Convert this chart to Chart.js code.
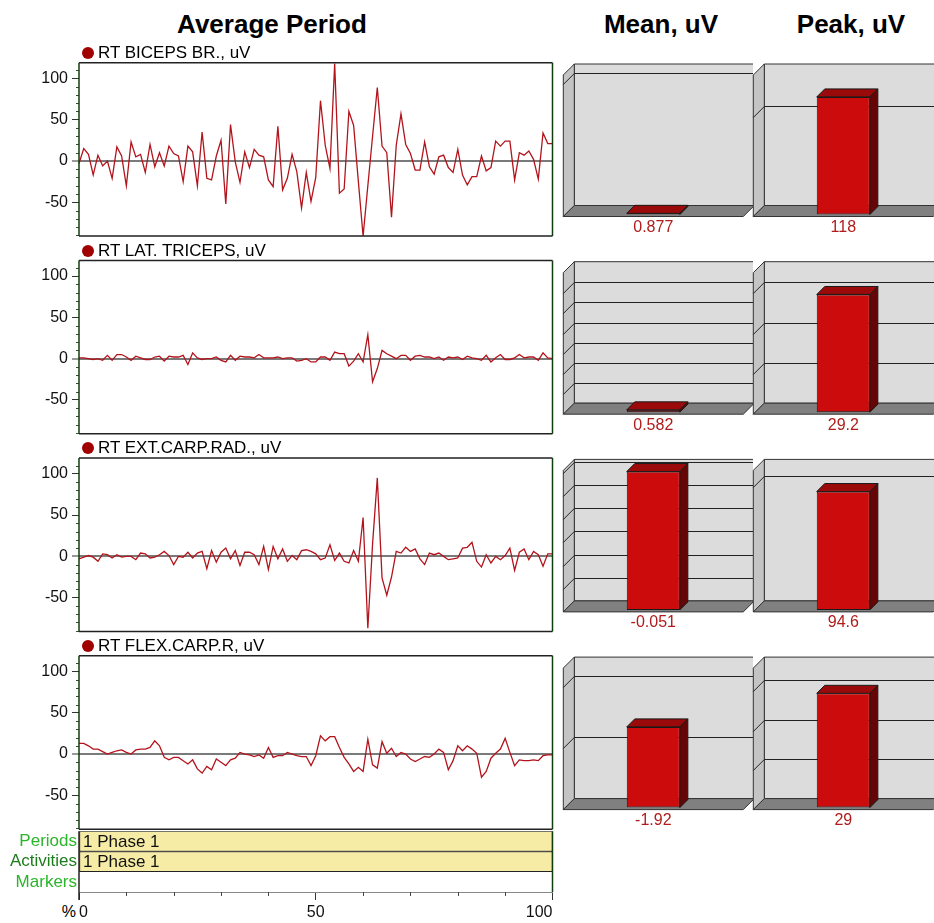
<!DOCTYPE html>
<html>
<head>
<meta charset="utf-8">
<script src="https://cdn.jsdelivr.net/npm/chart.js@4.4.0/dist/chart.umd.min.js"></script>
<style>
  body { margin: 0; width: 934px; height: 923px; overflow: hidden; background: #fff; position: relative;
         font-family: "Liberation Sans", Arial, sans-serif; }
  canvas { position: absolute; }
  .head { position: absolute; top: 10px; font-weight: bold; font-size: 26px; line-height: 28px;
          transform: translateX(-50%); white-space: nowrap; color: #000; }
  .series { position: absolute; left: 82px; height: 18px; display: flex; align-items: center;
            font-size: 17px; white-space: nowrap; color: #000; }
  .series .dot { width: 12px; height: 12px; border-radius: 50%; background: #a00000; margin-right: 4px; }
  .pct { position: absolute; left: 58px; top: 902px; width: 18px; text-align: right; font-size: 16px; line-height: 20px; }
</style>
</head>
<body>
<div class="head" style="left:272px">Average Period</div>
<div class="head" style="left:661px">Mean, uV</div>
<div class="head" style="left:851px">Peak, uV</div>
<div class="pct">%</div>
<script>
// ---- data ----
const channels = ['RT BICEPS BR., uV', 'RT LAT. TRICEPS, uV', 'RT EXT.CARP.RAD., uV', 'RT FLEX.CARP.R, uV'];

const biceps = [-3, 15, 8, -17, 7, -6, 0, -21, 17, 6, -30, 23, 5, 8, -14, 20, -7, 10, -6, 18,
  9, 6, -25, 18, 11, -30, 35, -21, -23, 6, 25, -52, 44, -1, -26, 11, -8, 14, 7, 5,
  -23, -31, 42, -35, -21, 8, -13, -57, -14, -49, -20, 73, 19, -9, 118, -39, -34, 60, 43, -25,
  -91, -30, 30, 89, 18, 10, -68, 19, 57, 20, 9, -11, -11, 23, -7, -16, 5, 7, -8, -14,
  14, -17, -29, -19, -19, 6, -12, -8, 24, 18, 24, 24, -23, 10, 7, 12, 2, -22, 34, 21, 21];

const triceps = [1, 1, 0, -1, 0, -2, 4, -2, 5, 5, 2, -2, 3, 1, -1, -1, 2, 3, -3, 3,
  2, 2, 4, -7, 7, 1, -1, 0, 0, 2, -2, -4, 4, -2, 3, 2, 2, 1, 5, 1,
  1, 1, 2, 0, 1, 1, -3, -2, 0, -4, -4, 2, 2, -2, 8, 6, 6, -9, -3, 6,
  -4, 29, -28, -12, 10, 6, 3, 0, 4, 4, -2, 3, 4, 2, 2, 0, 2, -2, 2, 1,
  2, -1, 3, 1, 0, -2, 4, -4, 1, 5, -1, -1, 1, 5, 1, 2, 2, -2, 7, 1, 0];

const extCarp = [-3, -1, 1, -1, -6, 3, 2, -2, 2, -1, 0, 0, -4, 4, 3, -2, -1, 2, 6, 1,
  -10, 0, -1, 5, -2, 4, 6, -15, 7, -7, 5, 10, -3, 7, -11, 5, 5, 2, -10, 12,
  -16, 12, -3, 9, -6, 1, -4, 7, 8, 6, 3, -4, -2, 14, -5, 4, -6, -8, 7, -6,
  47, -87, 15, 95, -26, -47, -25, 6, 4, 11, 6, 9, -3, -10, 4, 2, 4, 0, -4, -3,
  -2, 10, 11, 17, -6, -13, 2, -8, 0, -4, 1, 10, -17, 5, 9, -4, 6, 2, -12, 3, 3];

const flexCarp = [13, 13, 10, 6, 6, 3, 0, 2, 4, 5, 2, 0, 5, 6, 6, 8, 16, 10, -4, -7,
  -4, -4, -8, -12, -7, -18, -23, -15, -19, -6, -10, -14, -7, -5, 2, 0, -1, -3, -1, -5,
  8, -4, -2, -2, 2, 0, -2, -3, -3, -14, -2, 22, 16, 21, 21, 8, -4, -12, -21, -16,
  -21, 18, -13, -17, 15, 1, 7, -3, 2, 0, -6, -9, -6, -3, -4, 0, 6, 2, -19, -8,
  10, 4, 10, 6, 1, -28, -21, -5, 1, 6, 19, 2, -14, -7, -8, -8, -7, -8, -2, -1, -1];

const meanValues = [0.877, 0.582, -0.051, -1.92];
const peakValues = [118, 29.2, 94.6, 29];

const stripRows = ['Periods', 'Activities', 'Markers'];
const stripSpans = [[0, 100], [0, 100], null];
const stripText = ['1 Phase 1', '1 Phase 1', ''];

// percent of period, x categories
const percent = Array.from({ length: biceps.length }, (_, i) => i);

// ---- layout / style ----
Chart.defaults.font.family = '"Liberation Sans", Arial, sans-serif';
Chart.defaults.font.size = 16;
Chart.defaults.color = '#111';

const PLOT_L = 79, PLOT_R = 552.5, PLOT_H = 173.4, ROW = 197.7;
const lineTops = [62.7, 62.7 + ROW, 62.7 + 2 * ROW, 62.7 + 3 * ROW];
const wallTops = [64, 64 + ROW, 64 + 2 * ROW, 64 + 3 * ROW];
const DEPTH = 11, BAR_DEPTH = 8, AREA_H = 139.5;

// axis ranges of the small bar boxes [min, max, grid step]
const meanAxes = [[0, 105.5, 100], [0, 34.6, 5], [-0.35, -0.0485, 0.05], [-5.6, 0.76, 2.8]];
const peakAxes = [[0, 140, 100], [0, 34.6, 10], [0, 111.5, 100], [0, 35.4, 10]];

function addCanvas(left, top, w, h) {
  const cv = document.createElement('canvas');
  cv.width = w; cv.height = h;
  cv.style.left = left + 'px'; cv.style.top = top + 'px';
  cv.style.width = w + 'px'; cv.style.height = h + 'px';
  document.body.appendChild(cv);
  return cv;
}

function drawFrame(ctx, a) {
  ctx.lineWidth = 1.5;
  ctx.strokeStyle = '#222';
  ctx.beginPath();
  ctx.moveTo(a.left, a.top); ctx.lineTo(a.right, a.top);
  ctx.moveTo(a.left, a.bottom); ctx.lineTo(a.right, a.bottom);
  ctx.stroke();
  ctx.strokeStyle = '#0f3f0f';
  ctx.beginPath();
  ctx.moveTo(a.left, a.top); ctx.lineTo(a.left, a.bottom);
  ctx.moveTo(a.right, a.top); ctx.lineTo(a.right, a.bottom);
  ctx.stroke();
}

const panelFrame = {
  id: 'panelFrame',
  afterDraw(chart) {
    const { ctx, chartArea: a, scales: { y } } = chart;
    ctx.save();
    ctx.strokeStyle = '#444';
    ctx.lineWidth = 1;
    for (let v = -90; v <= 110; v += 10) {
      if (v % 50 === 0) continue;
      const py = Math.round(y.getPixelForValue(v)) + 0.5;
      ctx.beginPath(); ctx.moveTo(a.left - 3, py); ctx.lineTo(a.left, py); ctx.stroke();
    }
    drawFrame(ctx, a);
    ctx.restore();
  }
};

function linePanel(idx, values) {
  const top = lineTops[idx];
  const cTop = Math.floor(top) - 14, h = Math.ceil(PLOT_H) + 28, w = 560;
  const cv = addCanvas(0, cTop, w, h);
  const title = document.createElement('div');
  title.className = 'series';
  title.style.top = (top - 9.7 - 9) + 'px';
  title.innerHTML = '<span class="dot"></span><span></span>';
  title.lastChild.textContent = channels[idx];
  document.body.appendChild(title);

  new Chart(cv, {
    type: 'line',
    data: {
      labels: percent,
      datasets: [{ data: values, borderColor: '#b3141c', borderWidth: 1.3, pointRadius: 0, tension: 0, fill: false }]
    },
    options: {
      responsive: false, animation: false,
      layout: { padding: { left: 0, right: w - PLOT_R, top: top - cTop, bottom: cTop + h - (top + PLOT_H) } },
      plugins: { legend: { display: false }, tooltip: { enabled: false } },
      scales: {
        x: { display: false },
        y: {
          min: -91, max: 119,
          afterFit: s => { s.width = PLOT_L; },
          border: { display: false },
          ticks: { stepSize: 50, includeBounds: false, autoSkip: false, padding: 4, color: '#111' },
          grid: {
            tickLength: 7, tickWidth: 1,
            color: c => (c.tick && c.tick.value === 0 ? '#7a7a7a' : 'transparent'),
            lineWidth: c => (c.tick && c.tick.value === 0 ? 2 : 1),
            tickColor: '#333'
          }
        }
      }
    },
    plugins: [panelFrame]
  });
}

[biceps, triceps, extCarp, flexCarp].forEach((vals, i) => linePanel(i, vals));

// ---- periods / activities / markers strip with % axis ----
const stripPlugin = {
  id: 'stripPlugin',
  afterDatasetsDraw(chart) {
    const { ctx, chartArea: a } = chart;
    const meta = chart.getDatasetMeta(0);
    ctx.save();
    ctx.fillStyle = '#111';
    ctx.font = '17px "Liberation Sans", Arial, sans-serif';
    ctx.textBaseline = 'middle';
    meta.data.forEach((el, i) => {
      if (stripText[i]) ctx.fillText(stripText[i], a.left + 4, el.y + 1);
    });
    ctx.strokeStyle = '#444';
    ctx.lineWidth = 1;
    const x = chart.scales.x;
    for (let v = 10; v < 100; v += 10) {
      if (v % 50 === 0) continue;
      const px = Math.round(x.getPixelForValue(v)) + 0.5;
      ctx.beginPath(); ctx.moveTo(px, a.bottom); ctx.lineTo(px, a.bottom + 4); ctx.stroke();
    }
    ctx.lineWidth = 1.5;
    ctx.strokeStyle = '#222';
    ctx.beginPath(); ctx.moveTo(a.left, a.top); ctx.lineTo(a.left, a.bottom + 8); ctx.stroke();
    ctx.strokeStyle = '#0f3f0f';
    ctx.beginPath(); ctx.moveTo(a.right, a.top); ctx.lineTo(a.right, a.bottom); ctx.stroke();
    ctx.restore();
  }
};

(function strip() {
  const top = lineTops[3] + PLOT_H, bottom = 892;
  const cTop = Math.floor(top) - 10, h = 923 - cTop, w = 560;
  const cv = addCanvas(0, cTop, w, h);
  const rowColors = ['#2bb52b', '#1d7d1d', '#2bb52b'];
  new Chart(cv, {
    type: 'bar',
    data: {
      labels: stripRows,
      datasets: [{ data: stripSpans, backgroundColor: '#f6eca6', borderColor: '#222', borderWidth: 1,
                   borderSkipped: false, barPercentage: 1, categoryPercentage: 1 }]
    },
    options: {
      indexAxis: 'y', responsive: false, animation: false,
      layout: { padding: { left: 0, right: w - PLOT_R, top: top - cTop, bottom: cTop + h - bottom - 31 } },
      plugins: { legend: { display: false }, tooltip: { enabled: false } },
      scales: {
        x: {
          type: 'linear', min: 0, max: 100,
          afterFit: s => { s.height = 31; },
          border: { color: '#888' },
          ticks: { stepSize: 10, autoSkip: false, align: 'inner', padding: 3, maxRotation: 0, color: '#111',
                   callback: v => (v % 50 === 0 ? v : '') },
          grid: { drawOnChartArea: false, tickLength: 8,
                  tickColor: c => (c.tick && c.tick.value % 50 === 0 ? '#333' : 'transparent') }
        },
        y: {
          afterFit: s => { s.width = PLOT_L; },
          border: { display: false },
          grid: { display: false, drawTicks: false },
          ticks: { padding: 2, autoSkip: false, font: { size: 17 }, color: c => rowColors[c.index] }
        }
      }
    },
    plugins: [stripPlugin]
  });
})();

// ---- 3D bar boxes ----
function poly(ctx, pts, fill) {
  ctx.beginPath();
  ctx.moveTo(pts[0][0], pts[0][1]);
  for (let i = 1; i < pts.length; i++) ctx.lineTo(pts[i][0], pts[i][1]);
  ctx.closePath();
  ctx.fillStyle = fill;
  ctx.fill();
  ctx.stroke();
}

const box3d = {
  id: 'box3d',
  beforeDatasetsDraw(chart, args, opts) {
    const { ctx, chartArea: a, scales: { y } } = chart;
    const L = a.left, R = a.right, T = a.top;
    const fF = a.bottom + 2, fB = fF - DEPTH;
    ctx.save();
    ctx.lineWidth = 1;
    ctx.strokeStyle = '#333';
    poly(ctx, [[L + DEPTH, T - DEPTH], [R + DEPTH, T - DEPTH], [R + DEPTH, fB], [L + DEPTH, fB]], '#dcdcdc');
    poly(ctx, [[L, T], [L + DEPTH, T - DEPTH], [L + DEPTH, fB], [L, fF]], '#c4c4c4');
    // grid lines on the back wall, one per step inside the value range
    const step = opts.step, eps = step / 1000;
    ctx.strokeStyle = '#222';
    for (let k = Math.ceil((y.min + eps) / step); k * step < y.max - eps; k++) {
      const gy = Math.round(y.getPixelForValue(k * step) - DEPTH + 2) + 0.5;
      ctx.beginPath();
      ctx.moveTo(L + DEPTH, gy); ctx.lineTo(R + DEPTH, gy);
      ctx.moveTo(L, gy + DEPTH); ctx.lineTo(L + DEPTH, gy);
      ctx.stroke();
    }
    ctx.strokeStyle = '#333';
    poly(ctx, [[L, fF], [L + DEPTH, fB], [R + DEPTH, fB], [R, fF]], '#808080');
    ctx.restore();
  },
  afterDatasetsDraw(chart) {
    const { ctx, chartArea: a } = chart;
    const meta = chart.getDatasetMeta(0);
    ctx.save();
    ctx.lineWidth = 1;
    ctx.strokeStyle = '#1a1a1a';
    meta.data.forEach((bar, i) => {
      const { x, y, base, width } = bar.getProps(['x', 'y', 'base', 'width'], true);
      const x0 = x - width / 2, x1 = x + width / 2;
      const top = Math.min(y, base), bot = Math.max(y, base), d = BAR_DEPTH;
      poly(ctx, [[x0, top], [x0 + d, top - d], [x1 + d, top - d], [x1, top]], '#9b0a0a');
      poly(ctx, [[x1, top], [x1 + d, top - d], [x1 + d, bot - d], [x1, bot]], '#650505');
      ctx.fillStyle = '#b01c1c';
      ctx.font = '16px "Liberation Sans", Arial, sans-serif';
      ctx.textAlign = 'center';
      ctx.textBaseline = 'middle';
      ctx.fillText(chart.data.labels[i], x, a.bottom + 13);
    });
    ctx.restore();
  }
};

function barPanel(frontLeft, areaTop, value, axis) {
  const [yMin, yMax, step] = axis;
  const w = 200, cLeft = Math.floor(frontLeft) - 10, cTop = Math.floor(areaTop) - 20;
  const h = Math.ceil(AREA_H) + 20 + 30;
  const padL = frontLeft - cLeft, padT = areaTop - cTop;
  const cv = addCanvas(cLeft, cTop, w, h);
  new Chart(cv, {
    type: 'bar',
    data: {
      labels: [String(value)],
      datasets: [{ data: [value], base: yMin, backgroundColor: '#cc0c0c', borderColor: '#1a1a1a',
                   borderWidth: 1, borderSkipped: false, barPercentage: 0.295, categoryPercentage: 1 }]
    },
    options: {
      responsive: false, animation: false,
      layout: { padding: { left: padL, right: w - padL - 180, top: padT, bottom: h - padT - AREA_H } },
      plugins: { legend: { display: false }, tooltip: { enabled: false }, box3d: { step: step } },
      scales: {
        x: { display: false },
        y: { display: false, beginAtZero: false, min: yMin, max: yMax }
      }
    },
    plugins: [box3d]
  });
}

meanValues.forEach((v, i) => barPanel(563.3, wallTops[i] + DEPTH, v, meanAxes[i]));
peakValues.forEach((v, i) => barPanel(753.3, wallTops[i] + DEPTH, v, peakAxes[i]));
</script>
</body>
</html>
